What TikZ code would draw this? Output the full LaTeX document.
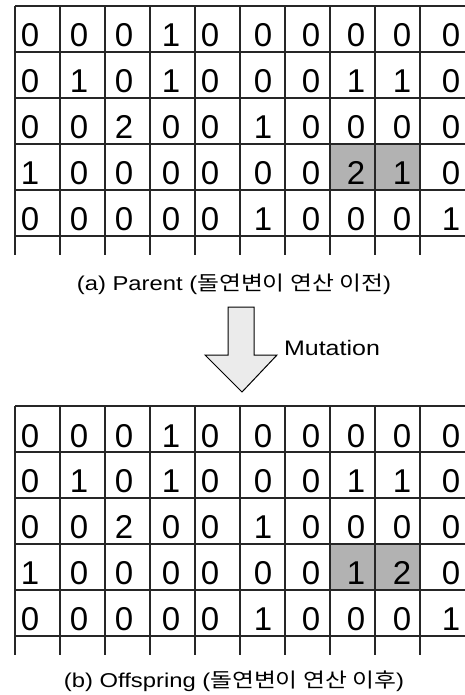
\documentclass[tikz,border=0pt]{standalone}
\usepackage{fontspec}
\setmainfont{Liberation Sans}
\newfontfamily\capfont[FakeStretch=1.19]{Liberation Sans}
\newfontfamily\kr[FakeStretch=1.19]{Noto Sans CJK KR}
\begin{document}
\begin{tikzpicture}[x=1pt,y=-1pt,
  gridline/.style={line width=1.3pt, black!85},
  digit/.style={font=\fontsize{33}{33}\selectfont, inner sep=0pt, anchor=base},
  hilite/.style={fill=black!30, draw=none},
  caption/.style={font=\capfont\fontsize{20}{22}\selectfont, inner sep=0pt, anchor=center},
  blockarrow/.style={fill=black!8, draw=black, line width=1pt, line join=miter}]
\useasboundingbox (0,0) rectangle (465,695);
\def\colx{{30,79,124,171,210,263,311,356,402,451}}
% ---------- highlighted cells
\fill[hilite] (330,143) rectangle (420,189);
\fill[hilite] (330,545) rectangle (420,591);
% ---------- grids
\foreach \yb in {6,406} {
  \foreach \k in {0,...,5} {
    \draw[gridline] (15,{\yb+46*\k}) -- (465,{\yb+46*\k});
  }
  \foreach \k in {0,...,9} {
    \draw[gridline] ({15+45*\k},\yb) -- ({15+45*\k},{\yb+249});
  }
}
% ---------- parent digits (base line = centre + half cap height)
\foreach \row [count=\r] in {{0,0,0,1,0,0,0,0,0,0},{0,1,0,1,0,0,0,1,1,0},{0,0,2,0,0,1,0,0,0,0},{1,0,0,0,0,0,0,2,1,0},{0,0,0,0,0,1,0,0,0,1}} {
  \foreach \v [count=\c] in \row {
    \pgfmathsetmacro\cx{\colx[\c-1]}
    \pgfmathsetmacro\cy{47+45.8*(\r-1)}
    \node[digit] (p-\r-\c) at (\cx,\cy) {\v};
  }
}
% ---------- offspring digits
\foreach \row [count=\r] in {{0,0,0,1,0,0,0,0,0,0},{0,1,0,1,0,0,0,1,1,0},{0,0,2,0,0,1,0,0,0,0},{1,0,0,0,0,0,0,1,2,0},{0,0,0,0,0,1,0,0,0,1}} {
  \foreach \v [count=\c] in \row {
    \pgfmathsetmacro\cx{\colx[\c-1]}
    \pgfmathsetmacro\cy{447+45.8*(\r-1)}
    \node[digit] (o-\r-\c) at (\cx,\cy) {\v};
  }
}
% ---------- captions
\node[caption] (capa) at (234,284) {(a) Parent ({\kr 돌연변이 연산 이전})};
\node[caption] (capb) at (234,681) {(b) Offspring ({\kr 돌연변이 연산 이후})};
% ---------- mutation arrow
\draw[blockarrow] (228,307) -- (254,307) -- (254,355) -- (277,355) -- (242,392) -- (205,355) -- (228,355) -- cycle;
\node[caption, font=\capfont\fontsize{21}{23}\selectfont] (mut) at (332,348) {Mutation};
\end{tikzpicture}
\end{document}
